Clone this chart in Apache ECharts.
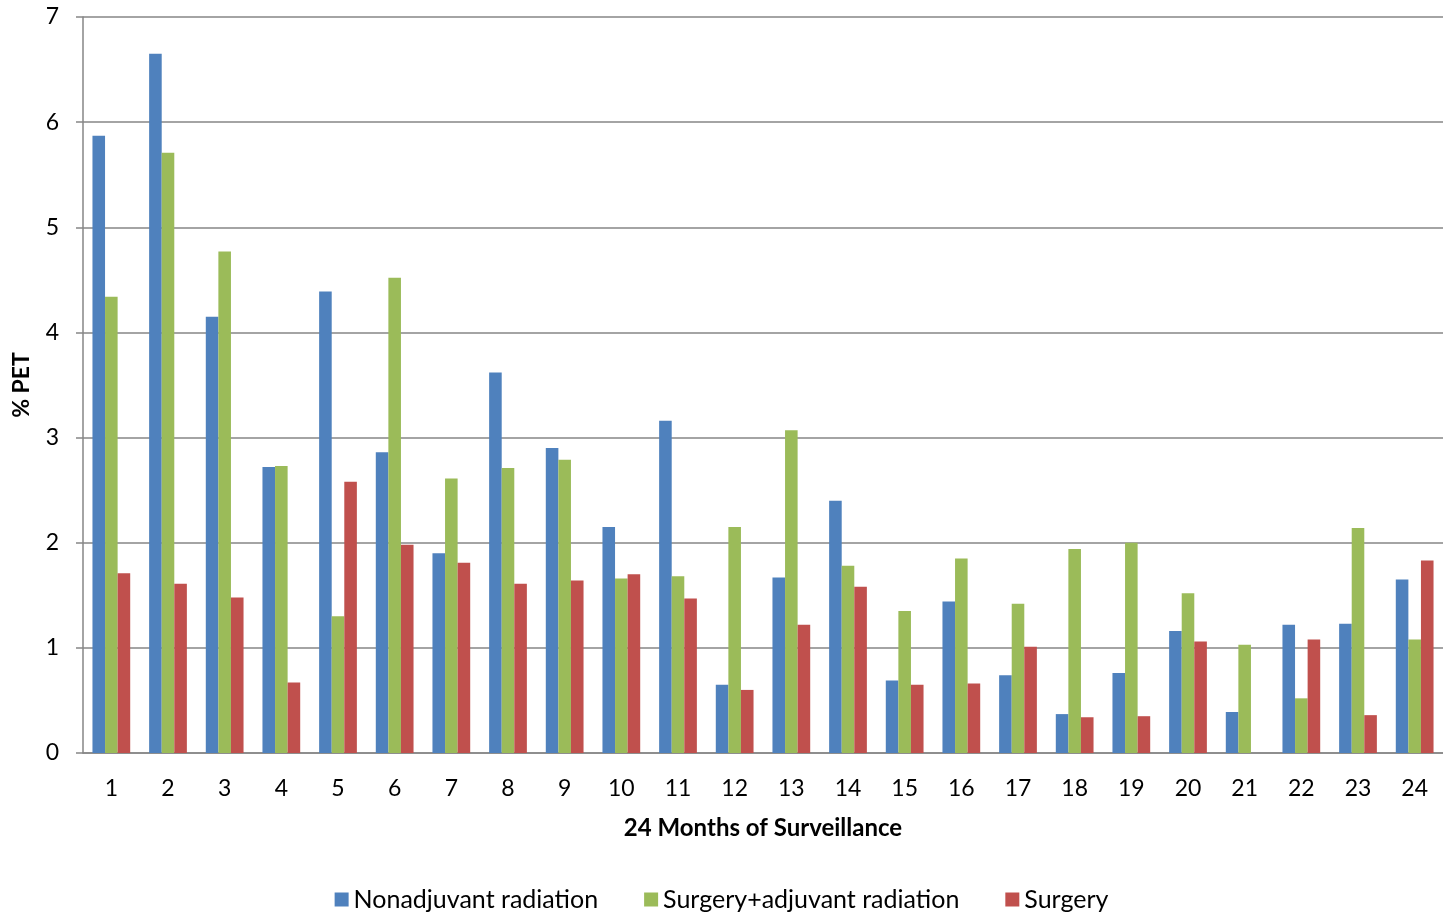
<!DOCTYPE html>
<html>
<head>
<meta charset="utf-8">
<title>% PET over 24 months of surveillance</title>
<script src="https://cdn.jsdelivr.net/npm/echarts@6/dist/echarts.min.js"></script>
<style>
  html, body { margin: 0; padding: 0; background: #ffffff; }
  #chart { width: 1443px; height: 913px; }
</style>
</head>
<body>
<div id="chart"></div>
<script>
// Months of surveillance
const months = ['1','2','3','4','5','6','7','8','9','10','11','12',
                '13','14','15','16','17','18','19','20','21','22','23','24'];

// % PET by treatment group
const nonadjuvantRadiation = [5.87, 6.65, 4.15, 2.72, 4.39, 2.86, 1.90, 3.62, 2.90, 2.15, 3.16, 0.65,
                              1.67, 2.40, 0.69, 1.44, 0.74, 0.37, 0.76, 1.16, 0.39, 1.22, 1.23, 1.65];
const surgeryAdjuvantRadiation = [4.34, 5.71, 4.77, 2.73, 1.30, 4.52, 2.61, 2.71, 2.79, 1.66, 1.68, 2.15,
                                  3.07, 1.78, 1.35, 1.85, 1.42, 1.94, 2.00, 1.52, 1.03, 0.52, 2.14, 1.08];
const surgeryOnly = [1.71, 1.61, 1.48, 0.67, 2.58, 1.98, 1.81, 1.61, 1.64, 1.70, 1.47, 0.60,
                     1.22, 1.58, 0.65, 0.66, 1.01, 0.34, 0.35, 1.06, 0, 1.08, 0.36, 1.83];

const seriesNames = ['Nonadjuvant radiation', 'Surgery+adjuvant radiation', 'Surgery'];
const seriesColors = ['#4F81BD', '#9BBB59', '#C0504D'];

const FONT = 'Lato, "Open Sans", sans-serif';
const chart = echarts.init(document.getElementById('chart'), null, { renderer: 'canvas' });

const barSeries = [nonadjuvantRadiation, surgeryAdjuvantRadiation, surgeryOnly].map((data, i) => ({
  name: seriesNames[i],
  type: 'bar',
  data: data,
  barGap: '0%',
  barCategoryGap: '33.4%',
  itemStyle: { color: seriesColors[i] },
  emphasis: { disabled: true }
}));

chart.setOption({
  backgroundColor: '#ffffff',
  animation: false,
  textStyle: { fontFamily: FONT },
  grid: { left: 83, right: 0, top: 17, bottom: 160, containLabel: false },
  legend: {
    data: seriesNames,
    bottom: -4,
    left: 'center',
    icon: 'rect',
    itemWidth: 14,
    itemHeight: 14,
    itemGap: 46,
    textStyle: { fontSize: 25, color: '#000000', fontFamily: FONT }
  },
  xAxis: {
    type: 'category',
    data: months,
    name: '24 Months of Surveillance',
    nameLocation: 'middle',
    nameGap: 63,
    nameTextStyle: { fontSize: 24, fontWeight: 'bold', color: '#000000', fontFamily: FONT },
    axisLine: { show: true, lineStyle: { color: '#868686', width: 1.5 } },
    axisTick: { show: false },
    axisLabel: { margin: 24, fontSize: 23, color: '#000000', fontFamily: FONT },
    splitLine: { show: false }
  },
  yAxis: {
    type: 'value',
    min: 0,
    max: 7,
    interval: 1,
    name: '% PET',
    nameLocation: 'middle',
    nameGap: 50,
    nameTextStyle: { fontSize: 23, fontWeight: 'bold', color: '#000000', fontFamily: FONT },
    axisLine: { show: true, lineStyle: { color: '#868686', width: 1.5 } },
    axisTick: { show: true, inside: false, length: 7, lineStyle: { color: '#868686', width: 1.5 } },
    axisLabel: { margin: 24, fontSize: 23, color: '#000000', fontFamily: FONT },
    splitLine: { show: true, lineStyle: { color: '#868686', width: 1.5 } }
  },
  series: barSeries
});
</script>
</body>
</html>
